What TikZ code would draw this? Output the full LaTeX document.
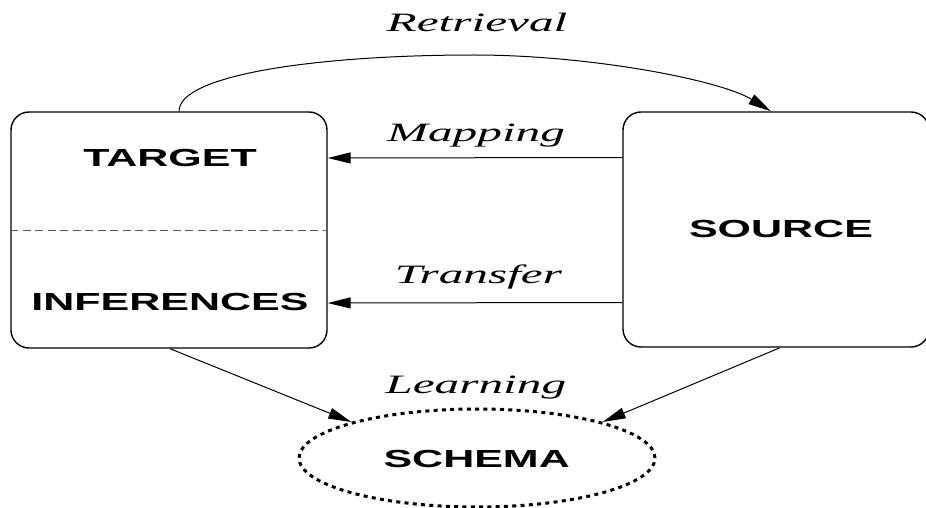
\documentclass[tikz,border=0pt]{standalone}
\usepackage{fontspec}
\usepackage{graphicx}
\setmainfont{Liberation Serif}
\newfontfamily\boxfont{Liberation Sans}
\usetikzlibrary{arrows.meta,shapes.geometric}

% horizontally widened lettering
\newcommand{\wideS}[1]{\scalebox{1.74}[1]{#1}}
\newcommand{\wideI}[1]{\scalebox{1.86}[1]{#1}}

\tikzset{
  box/.style={draw=black, line width=1.4pt, rounded corners=18pt, inner sep=0pt},
  boxtext/.style={anchor=base, inner sep=0pt,
    font=\boxfont\bfseries\fontsize{24.7}{26}\selectfont},
  flowlabel/.style={anchor=base, inner sep=0pt,
    font=\itshape\fontsize{26.5}{28}\selectfont},
  flow/.style={draw=black, line width=1pt,
    -{Triangle[length=23pt,width=11pt]}},
  cloud/.style={ellipse, draw=black, line width=3pt,
    dash pattern=on 4pt off 4.3pt, inner sep=0pt,
    minimum width=356pt, minimum height=98pt},
}

\begin{document}
\begin{tikzpicture}[x=1pt, y={(0pt,-1pt)}]
  \useasboundingbox (0,0) rectangle (926,508);

  % the two cases
  \node[box, minimum width=316pt, minimum height=236pt] (target) at (169,230) {};
  \node[box, minimum width=306pt, minimum height=235pt] (source) at (776,229.5) {};
  \draw[draw=black!65, line width=0.8pt, dash pattern=on 8pt off 4.5pt]
    (target.west) -- (target.east);

  \node[boxtext] (ttarget) at (170,166) {\wideS{TARGET}};
  \node[boxtext] (tinf) at (170,310.7) {\wideS{INFERENCES}};
  \node[boxtext] (tsource) at (781,237.3) {\wideS{SOURCE}};

  % the abstracted schema
  \node[cloud] (schema) at (477,458) {};
  \node[boxtext] (tschema) at (476.7,467.3) {\wideS{SCHEMA}};

  % retrieval arc over the top
  \coordinate (peak) at (474,55);
  \draw[flow] ([xshift=10pt]target.north)
      .. controls ([xshift=10pt,yshift=37pt]target.north) and (320,55) .. (peak)
      .. controls (590,55) and (720,80) .. ([xshift=-5pt]source.north);

  % mapping and transfer
  \draw[flow] ([yshift=72pt]source.west) -- ([yshift=72pt]target.east);
  \draw[flow] ([yshift=-73pt]source.west) -- ([yshift=-73pt]target.east);

  % learning
  \draw[flow] ([xshift=1pt]target.south) -- (schema.164);
  \draw[flow] ([xshift=4pt]source.south) -- (schema.16);

  % process labels
  \node[flowlabel] (lretr) at (477,31.7) {\wideI{Retrieval}};
  \node[flowlabel] (lmap) at (476,141.7) {\wideI{Mapping}};
  \node[flowlabel] (ltrans) at (478.5,283.3) {\wideI{Transfer}};
  \node[flowlabel] (llearn) at (475.8,393.3) {\wideI{Learning}};
\end{tikzpicture}
\end{document}
